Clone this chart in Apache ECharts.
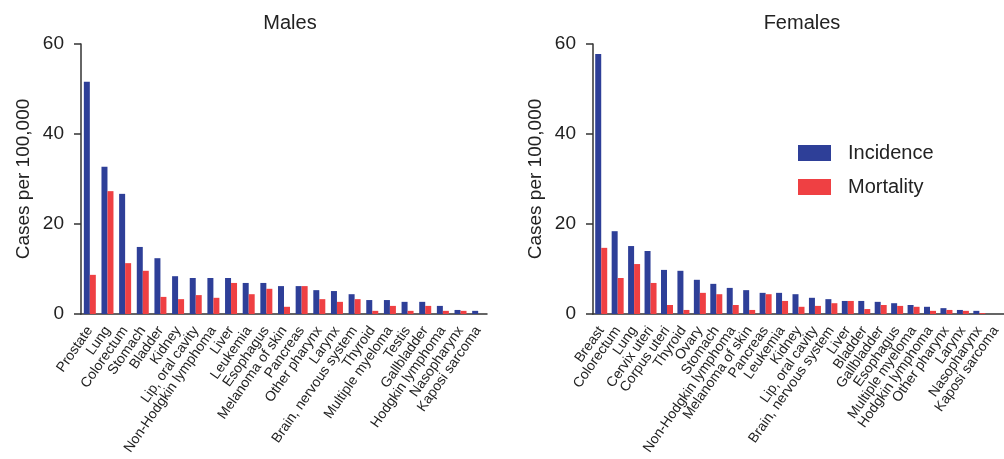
<!DOCTYPE html>
<html>
<head>
<meta charset="utf-8">
<script src="https://cdn.jsdelivr.net/npm/echarts@6/dist/echarts.min.js"></script>
<style>
  html, body { margin: 0; padding: 0; background: #fff; }
  #main { width: 1004px; height: 459px; }
</style>
</head>
<body>
<div id="main"></div>
<script>
// male cancer sites, cases per 100,000
const maleSites = ["Prostate", "Lung", "Colorectum", "Stomach", "Bladder", "Kidney",
  "Lip, oral cavity", "Non-Hodgkin lymphoma", "Liver", "Leukemia", "Esophagus",
  "Melanoma of skin", "Pancreas", "Other pharynx", "Larynx", "Brain, nervous system",
  "Thyroid", "Multiple myeloma", "Testis", "Gallbladder", "Hodgkin lymphoma",
  "Nasopharynx", "Kaposi sarcoma"];
const maleIncidence = [51.6, 32.7, 26.7, 14.9, 12.4, 8.4, 8.0, 8.0, 8.0, 6.9, 6.9,
  6.2, 6.2, 5.3, 5.1, 4.4, 3.1, 3.1, 2.7, 2.7, 1.8, 0.9, 0.7];
const maleMortality = [8.7, 27.3, 11.3, 9.6, 3.8, 3.3, 4.2, 3.6, 6.9, 4.4, 5.6,
  1.6, 6.2, 3.3, 2.7, 3.3, 0.7, 1.8, 0.7, 1.8, 0.7, 0.7, 0];

// female cancer sites
const femaleSites = ["Breast", "Colorectum", "Lung", "Cervix uteri", "Corpus uteri",
  "Thyroid", "Ovary", "Stomach", "Non-Hodgkin lymphoma", "Melanoma of skin", "Pancreas",
  "Leukemia", "Kidney", "Lip, oral cavity", "Brain, nervous system", "Liver", "Bladder",
  "Gallbladder", "Esophagus", "Multiple myeloma", "Hodgkin lymphoma", "Other pharynx",
  "Larynx", "Nasopharynx", "Kaposi sarcoma"];
const femaleIncidence = [57.8, 18.4, 15.1, 14.0, 9.8, 9.6, 7.6, 6.7, 5.8, 5.3, 4.7,
  4.7, 4.4, 3.6, 3.3, 2.9, 2.9, 2.7, 2.4, 2.0, 1.6, 1.3, 0.9, 0.7, 0];
const femaleMortality = [14.7, 8.0, 11.1, 6.9, 2.0, 0.9, 4.7, 4.4, 2.0, 0.9, 4.4,
  2.9, 1.6, 1.8, 2.4, 2.9, 1.1, 2.0, 1.8, 1.6, 0.7, 0.9, 0.7, 0.2, 0];

const yTicks = [0, 20, 40, 60];

const FONT = "Liberation Sans";
const BLUE = "#2e3f98";
const RED = "#ef4043";
const AXIS = "#333";

function xAxisFor(gridIndex, data) {
  return {
    type: "category",
    gridIndex: gridIndex,
    data: data,
    axisLine: { lineStyle: { color: AXIS, width: 1.5 } },
    axisTick: { alignWithLabel: true, length: 6, lineStyle: { color: "#555", width: 1.5 } },
    axisLabel: {
      interval: 0, rotate: 55, margin: 14,
      fontFamily: FONT, fontSize: 14, color: "#222"
    }
  };
}

function yAxisFor(gridIndex) {
  return {
    type: "value",
    gridIndex: gridIndex,
    min: yTicks[0], max: yTicks[yTicks.length - 1], interval: 20,
    name: "Cases per 100,000",
    nameLocation: "middle",
    nameGap: 48,
    nameTextStyle: { fontFamily: FONT, fontSize: 19, color: "#222" },
    splitLine: { show: false },
    axisLine: { show: true, lineStyle: { color: AXIS, width: 1.5 } },
    axisTick: { show: true, length: 7, lineStyle: { color: AXIS, width: 1.5 } },
    axisLabel: { margin: 17, fontFamily: FONT, fontSize: 19, color: "#222" }
  };
}

function barSeries(name, idx, data, color) {
  return {
    type: "bar", name: name,
    xAxisIndex: idx, yAxisIndex: idx,
    data: data,
    barWidth: 6, barGap: "0%",
    itemStyle: { color: color },
    animation: false
  };
}

const chart = echarts.init(document.getElementById("main"));
chart.setOption({
  animation: false,
  title: [
    { text: "Males", left: 285, top: 8, textAlign: "center",
      textStyle: { fontFamily: FONT, fontSize: 20, fontWeight: "normal", color: "#222" } },
    { text: "Females", left: 797, top: 8, textAlign: "center",
      textStyle: { fontFamily: FONT, fontSize: 20, fontWeight: "normal", color: "#222" } }
  ],
  legend: {
    data: ["Incidence", "Mortality"],
    orient: "vertical",
    left: 798, top: 143,
    padding: 0,
    itemWidth: 33, itemHeight: 16, itemGap: 14,
    icon: "rect",
    textStyle: { fontFamily: FONT, fontSize: 20, color: "#222", padding: [0, 0, 0, 12] }
  },
  grid: [
    { left: 81, right: 517, top: 44, bottom: 145, containLabel: false, outerBoundsMode: "none" },
    { left: 593, right: 0, top: 44, bottom: 145, containLabel: false, outerBoundsMode: "none" }
  ],
  xAxis: [xAxisFor(0, maleSites), xAxisFor(1, femaleSites)],
  yAxis: [yAxisFor(0), yAxisFor(1)],
  series: [
    barSeries("Incidence", 0, maleIncidence, BLUE),
    barSeries("Mortality", 0, maleMortality, RED),
    barSeries("Incidence", 1, femaleIncidence, BLUE),
    barSeries("Mortality", 1, femaleMortality, RED)
  ]
});
</script>
</body>
</html>
